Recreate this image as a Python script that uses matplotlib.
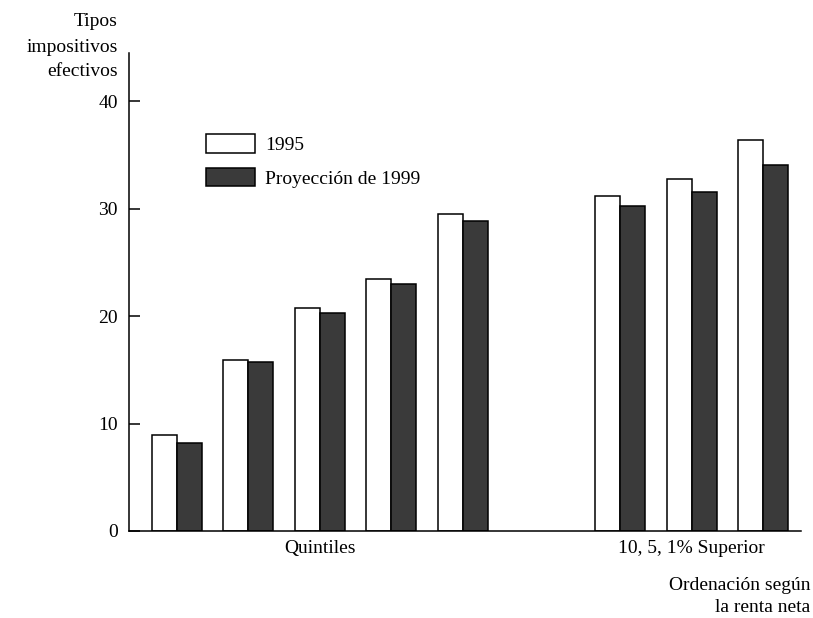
import matplotlib.pyplot as plt
import numpy as np
from matplotlib.patches import Patch

plt.rcParams['font.family'] = ['Liberation Serif', 'DejaVu Serif']
plt.rcParams['font.size'] = 14

# data
groups = ['Q1', 'Q2', 'Q3', 'Q4', 'Q5', 'Top10', 'Top5', 'Top1']
pos = np.array([0, 1, 2, 3, 4, 6.2, 7.2, 8.2])
rate_1995 = [8.9, 15.9, 20.8, 23.5, 29.5, 31.2, 32.8, 36.4]
rate_1999 = [8.2, 15.7, 20.3, 23.0, 28.9, 30.3, 31.6, 34.1]
yticks = [0, 10, 20, 30, 40]

w = 0.35
dark = '#3a3a3a'

fig = plt.figure(figsize=(8.13, 6.18), dpi=100)
ax = fig.add_axes([0.1587, 0.1408, 0.826, 0.7734])

ax.bar(pos - w/2, rate_1995, w, color='white', edgecolor='black', linewidth=1.1)
ax.bar(pos + w/2, rate_1999, w, color=dark, edgecolor='black', linewidth=1.1)

ax.set_xlim(-0.667, 8.72)
ax.set_ylim(0, 44.5)
ax.set_yticks(yticks)
ax.set_xticks([])
ax.tick_params(axis='y', direction='in', length=8, width=1.1, pad=8)
for s in ['top', 'right']:
    ax.spines[s].set_visible(False)
for s in ['left', 'bottom']:
    ax.spines[s].set_linewidth(1.1)

fig.text(118/813, 1 - 22/618, 'Tipos', ha='right', va='center')
fig.text(118/813, 1 - 47/618, 'impositivos', ha='right', va='center')
fig.text(118/813, 1 - 72/618, 'efectivos', ha='right', va='center')

ax.text(2, -1.6, 'Quintiles', ha='center', va='center')
ax.text(7.2, -1.6, '10, 5, 1% Superior', ha='center', va='center')
fig.text(810/813, 1 - 585/618, 'Ordenación según', ha='right', va='center')
fig.text(810/813, 1 - 607/618, 'la renta neta', ha='right', va='center')

handles = [Patch(facecolor='white', edgecolor='black', linewidth=1.1),
           Patch(facecolor=dark, edgecolor='black', linewidth=1.1)]
fig.legend(handles, ['1995', 'Proyección de 1999'], loc='upper left',
           bbox_to_anchor=(206/813, 1 - 134/618), frameon=False,
           handlelength=2.5, handleheight=1.1, handletextpad=0.55,
           labelspacing=0.7, borderpad=0, borderaxespad=0)

fig.savefig('out.png', dpi=100)
